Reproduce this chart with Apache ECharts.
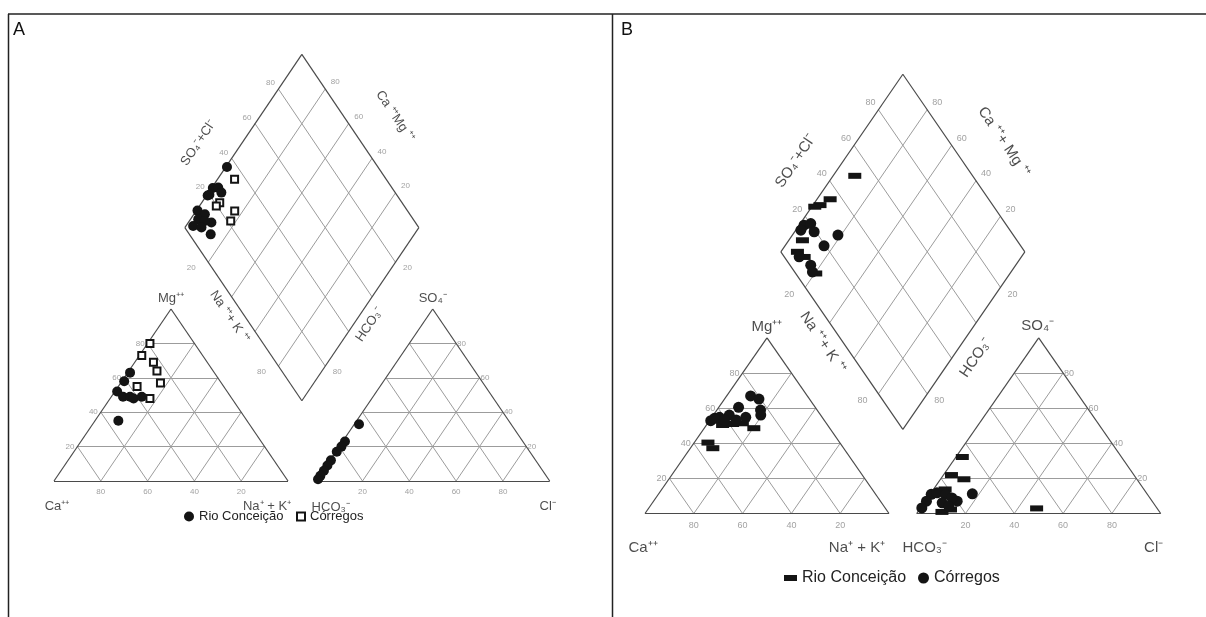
<!DOCTYPE html>
<html><head><meta charset="utf-8">
<script src="https://cdn.jsdelivr.net/npm/echarts@6/dist/echarts.min.js"></script>
<style>html,body{margin:0;padding:0;background:#fff}#c{width:1206px;height:617px}</style>
</head><body><div id="c"></div>
<script>
const FONT = '"Liberation Sans", Arial, Helvetica, sans-serif';
const H = 86.6025;
const TICKS = [20, 40, 60, 80];

// ---------- Panel A data (percent of meq) ----------
// cation triangle: [Mg++, Na+ + K+]
const rioA_cation = [[63,1],[58,1],[52,1],[49,5],[49,8],[48,10],[49,13],[35,10]];
const corA_cation = [[80,1],[73,1],[69,8],[64,12],[57,17],[55,8],[48,17]];
// anion triangle: [SO4--, Cl-]
const rioA_anion = [[33,2],[23,1],[20,1],[17,0.5],[12,0.5],[9,0.5],[6,0.5],[3,0.5],[1,0.5]];
// diamond: [SO4 + Cl, Na + K]
const rioA_diamond = [[35.5,0.5],[23.4,0.5],[25.8,2.7],[19,0.5],[25.7,5.5],[20,1],[10.3,0.5],[12.4,4.7],[8.1,3.3],[4,3.1],[12.8,9.9],[9.1,13],[10.4,6.6],[7.1,7.1]];
const corA_diamond = [[35.2,7.3],[22.1,7.7],[26.1,16.5],[21.5,17.7],[19.7,7.2]];

// ---------- Panel B data ----------
const rioB_cation = [[48.6,20.3],[40.4,5.6],[37.2,9.2],[50.4,6.6],[51,10.4],[51.4,14.2]];
const corB_cation = [[67,9.8],[65.2,14.1],[58.9,17.9],[56.1,19.4],[60.5,8.1],[56.1,6.5],[54.8,3.1],[52.9,0.5],[54.2,1.4],[54.8,13.9],[53.3,10.7],[53.3,5.9]];
const rioB_anion = [[32.2,2.6],[21.9,3.3],[19.5,9.6],[13.7,4.8],[0.9,9.9],[2.3,12.7],[2.9,47.7]];
const corB_anion = [[11.2,17.2],[7,13.1],[10.9,0.5],[7,0.5],[3.2,0.5],[11.8,2.4],[10.9,6.3],[6.1,7.4],[8.9,10],[4.2,11]];
const rioB_diamond = [[51.7,8.9],[35,5.4],[29.2,2.9],[26.6,1.2],[12.1,5.6],[6.8,6.8],[8.1,11],[8.2,20.4]];
const corB_diamond = [[17,2],[20.2,4.3],[14.3,2.1],[19.3,8],[28.1,18.7],[19.4,16],[6.1,8.9],[8.5,16],[7.3,18.6]];

// ---------- layout ----------
const panels = [
  { id:'A', L:{x0:54, sx:2.34, base:481, sy:1.986, gap:11.84, db:40.4, hd:87.2},
    font:13, tick:8, tickD:7,
    vOff:{mg:[0,-11], so4:[0,-11], ca:[3,25], nak:[-21,25], hco3:[15,26], cl:[-2,25]},
    tOff:{so4cl:[-45,2], camg:[34.5,-25], nak:[-14,2.5], hco3:[9,10.5]},
    camgText:'Ca \u207A\u207AMg \u207A\u207A',
    oUL:[-8,-6], oUR:[10,-7], oLL:[-17,6], oLR:[12,6],
    rio:{cat:rioA_cation, ani:rioA_anion, dia:rioA_diamond, symbol:'circle', size:10},
    cor:{cat:corA_cation, ani:[], dia:corA_diamond, symbol:'emptyRect', size:7},
    legRio:{left:184, top:510, icon:'circle', w:10, h:10, fs:13},
    legCor:{left:296, top:510, icon:'emptyRect', w:8, h:8, fs:13} },
  { id:'B', L:{x0:645, sx:2.44, base:513.5, sy:2.027, gap:11.35, db:41.5, hd:87.6},
    font:15, tick:9, tickD:8,
    vOff:{mg:[0,-11], so4:[-1,-12], ca:[-2,34], nak:[-32,34], hco3:[8,34], cl:[-7,34]},
    tOff:{so4cl:[-46,-2], camg:[40,-21], nak:[-19,2], hco3:[12,17]},
    camgText:'Ca \u207A\u207A+ Mg \u207A\u207A',
    oUL:[-8,-7], oUR:[10,-7], oLL:[-16,7], oLR:[12,7],
    rio:{cat:rioB_cation, ani:rioB_anion, dia:rioB_diamond, symbol:'rect', size:[13,6]},
    cor:{cat:corB_cation, ani:corB_anion, dia:corB_diamond, symbol:'circle', size:11},
    legRio:{left:784, top:570, icon:'rect', w:13, h:6, fs:16},
    legCor:{left:918, top:570, icon:'circle', w:11, h:11, fs:16} }
];

const grids = [], xAxes = [], yAxes = [], series = [], legends = [];

panels.forEach((P, i) => {
  const L = P.L;
  const cat = (mg, nk) => [nk + mg/2, mg*H/100];
  const ani = (so4, cl) => [100 + L.gap + cl + so4/2, so4*H/100];
  const dia = (s, n) => [50 + L.gap/2 + (s+n)/2, L.db + L.hd + L.hd*(s-n)/100];
  // shift an anchor by a screen offset (px) so rotated labels stay centred where wanted
  const shift = (pt, o) => [pt[0] + o[0]/L.sx, pt[1] - o[1]/L.sy];

  const xmin = -15, xmax = 215 + L.gap, ymin = -15, ymax = L.db + 2*L.hd + 10;
  grids.push({left: L.x0 + L.sx*xmin, width: L.sx*(xmax-xmin),
              top: L.base - L.sy*ymax, height: L.sy*(ymax-ymin)});
  xAxes.push({type:'value', gridIndex:i, min:xmin, max:xmax, show:false});
  yAxes.push({type:'value', gridIndex:i, min:ymin, max:ymax, show:false});

  const outline = [], gridl = [];
  const seg = (arr, a, b) => arr.push({coords:[a, b]});
  seg(outline, cat(0,0), cat(0,100)); seg(outline, cat(0,100), cat(100,0)); seg(outline, cat(100,0), cat(0,0));
  seg(outline, ani(0,0), ani(0,100)); seg(outline, ani(0,100), ani(100,0)); seg(outline, ani(100,0), ani(0,0));
  const dv = [dia(0,0), dia(100,0), dia(100,100), dia(0,100)];
  for (let k = 0; k < 4; k++) seg(outline, dv[k], dv[(k+1)%4]);
  TICKS.forEach(t => {
    seg(gridl, cat(t,0), cat(t,100-t)); seg(gridl, cat(0,t), cat(100-t,t)); seg(gridl, cat(0,100-t), cat(100-t,0));
    seg(gridl, ani(t,0), ani(t,100-t)); seg(gridl, ani(0,t), ani(100-t,t)); seg(gridl, ani(0,100-t), ani(100-t,0));
    seg(gridl, dia(t,0), dia(t,100)); seg(gridl, dia(0,t), dia(100,t));
  });
  series.push({type:'lines', coordinateSystem:'cartesian2d', xAxisIndex:i, yAxisIndex:i, silent:true,
    data:gridl, lineStyle:{color:'#9c9c9c', width:1, opacity:1}, z:1});
  series.push({type:'lines', coordinateSystem:'cartesian2d', xAxisIndex:i, yAxisIndex:i, silent:true,
    data:outline, lineStyle:{color:'#4a4a4a', width:1.2, opacity:1}, z:2});

  // text labels
  const labs = [];
  const tickStyle = {fontSize:P.tick, color:'#8a8a8a', fontFamily:FONT};
  const lab = (pt, text, o) => labs.push({value:pt, label:Object.assign({show:true, formatter:text}, o)});
  TICKS.forEach(t => {
    lab(cat(t,0), String(t), Object.assign({position:'left', distance:3}, tickStyle));
    lab(cat(0,t), String(100-t), Object.assign({position:'bottom', distance:P.tickD}, tickStyle));
    lab(ani(0,t), String(t), Object.assign({position:'bottom', distance:P.tickD}, tickStyle));
    lab(ani(t,100-t), String(t), Object.assign({position:'right', distance:1}, tickStyle));
    lab(dia(t,0), String(t), Object.assign({position:'inside', offset:P.oUL}, tickStyle));
    lab(dia(100,100-t), String(t), Object.assign({position:'inside', offset:P.oUR}, tickStyle));
    if (t === 20 || t === 80) {
      lab(dia(0,t), String(t), Object.assign({position:'inside', offset:P.oLL}, tickStyle));
      lab(dia(100-t,100), String(t), Object.assign({position:'inside', offset:P.oLR}, tickStyle));
    }
  });
  const vs = {position:'inside', fontSize:P.font, color:'#1e1e1e', fontFamily:FONT};
  lab(cat(100,0), 'Mg\u207A\u207A', Object.assign({offset:P.vOff.mg}, vs));
  lab(ani(100,0), 'SO\u2084\u207B', Object.assign({offset:P.vOff.so4}, vs));
  lab(cat(0,0), 'Ca\u207A\u207A', Object.assign({offset:P.vOff.ca}, vs));
  lab(cat(0,100), 'Na\u207A + K\u207A', Object.assign({offset:P.vOff.nak}, vs));
  lab(ani(0,0), 'HCO\u2083\u207B', Object.assign({offset:P.vOff.hco3}, vs));
  lab(ani(0,100), 'Cl\u207B', Object.assign({offset:P.vOff.cl}, vs));
  lab(shift(dia(50,0), P.tOff.so4cl), 'SO\u2084\u207B+Cl\u207B', Object.assign({rotate:56}, vs));
  lab(shift(dia(100,50), P.tOff.camg), P.camgText, Object.assign({rotate:-56}, vs));
  lab(shift(dia(0,50), P.tOff.nak), 'Na \u207A\u207A+ K \u207A\u207A', Object.assign({rotate:-56}, vs));
  lab(shift(dia(50,100), P.tOff.hco3), 'HCO\u2083\u207B', Object.assign({rotate:56}, vs));
  series.push({type:'scatter', xAxisIndex:i, yAxisIndex:i, silent:true, clip:false, symbolSize:0,
    data:labs, z:3});

  // sample points
  [['Rio Conceição', P.rio], ['Córregos', P.cor]].forEach(([nm, S]) => {
    const pts = [].concat(S.cat.map(d => cat(d[0], d[1])), S.ani.map(d => ani(d[0], d[1])), S.dia.map(d => dia(d[0], d[1])));
    series.push({type:'scatter', name:nm + ' ' + P.id, xAxisIndex:i, yAxisIndex:i, clip:false,
      symbol:S.symbol, symbolSize:S.size, data:pts,
      itemStyle:{color:'#141414', borderColor:'#141414', borderWidth: S.symbol === 'emptyRect' ? 1 : 0, opacity:1},
      z: S.symbol === 'emptyRect' ? 4 : 5});
  });

  [['Rio Conceição', P.legRio], ['Córregos', P.legCor]].forEach(([nm, G]) => {
    legends.push({left:G.left, top:G.top, padding:0, itemGap:0, itemWidth:G.w, itemHeight:G.h,
      selectedMode:false, data:[{name:nm + ' ' + P.id, icon:G.icon}],
      formatter: n => n.replace(/ [AB]$/, ''),
      textStyle:{fontSize:G.fs, color:'#222', fontFamily:FONT}});
  });
});

const chart = echarts.init(document.getElementById('c'));
chart.setOption({
  animation:false,
  backgroundColor:'#fff',
  title:[
    {text:'A', left:13, top:21, padding:0, textStyle:{fontSize:18, fontWeight:'normal', color:'#111', fontFamily:FONT}},
    {text:'B', left:621, top:21, padding:0, textStyle:{fontSize:18, fontWeight:'normal', color:'#111', fontFamily:FONT}}
  ],
  graphic:[
    {type:'line', shape:{x1:8, y1:14, x2:1206, y2:14}, style:{stroke:'#222', lineWidth:1.5}, silent:true},
    {type:'line', shape:{x1:8.5, y1:14, x2:8.5, y2:617}, style:{stroke:'#222', lineWidth:1.5}, silent:true},
    {type:'line', shape:{x1:612.5, y1:14, x2:612.5, y2:617}, style:{stroke:'#222', lineWidth:1.5}, silent:true}
  ],
  legend:legends,
  grid:grids, xAxis:xAxes, yAxis:yAxes,
  series:series
});
</script>
</body></html>
